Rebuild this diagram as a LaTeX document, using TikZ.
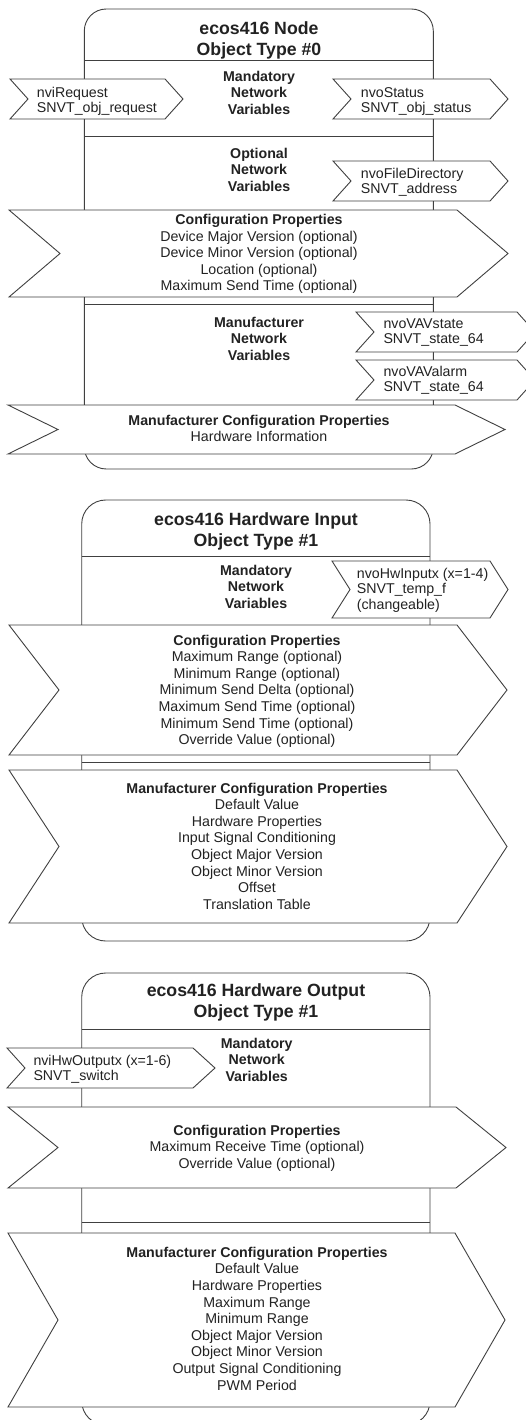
\documentclass[tikz,border=0pt]{standalone}
\usepackage{fontspec}
\setmainfont{Liberation Sans}
\usetikzlibrary{calc}
\definecolor{ln}{HTML}{404040}
\definecolor{tx}{HTML}{222222}
\newcommand\chevshape[7]{% name l t r b dl dr
  \pgfmathsetmacro\chevmid{(#3+#5)/2}
  \draw[shp] (#2,#3) -- (#4,#3) -- (#4+#7,\chevmid) -- (#4,#5) -- (#2,#5) -- (#2+#6,\chevmid) -- cycle;
  \coordinate (#1) at ({(#2+#4)/2},\chevmid);}
\begin{document}
\begin{tikzpicture}[x=1pt,y=-1pt,
  shp/.style={draw=ln, line width=0.9pt, fill=white, line join=miter},
  sect/.style={draw=ln, line width=0.9pt},
  ttl/.style={font=\fontsize{17.7}{21}\selectfont\bfseries, text=tx, align=center, anchor=base, inner sep=0},
  hd/.style={font=\fontsize{14.2}{16.5}\selectfont\bfseries, text=tx, align=center, anchor=base, inner sep=0},
  body/.style={font=\fontsize{14.2}{16.6}\selectfont, text=tx, align=center, anchor=base, inner sep=0},
  lbl/.style={font=\fontsize{14.2}{15.6}\selectfont, text=tx, align=left, anchor=base west, inner sep=0}]
\useasboundingbox[fill=white] (0,0) rectangle (526,1420);

% ---------------- Block 1 ----------------
\draw[shp, rounded corners=22] (84.3,9) rectangle (433.3,469);
\draw[sect] (84.3,60) -- (433.3,60);
\draw[sect] (84.3,136) -- (433.3,136);
\draw[sect] (84.3,304) -- (433.3,304);
\chevshape{a1}{10}{79}{165}{119}{18}{18}
\chevshape{a2}{333}{79}{490}{119}{18}{18}
\chevshape{a3}{333}{161}{490}{201}{18}{18}
\chevshape{c1}{9}{210}{457}{297}{51}{51}
\chevshape{a4}{356}{312}{517}{352}{18}{18}
\chevshape{a5}{356}{360}{517}{400}{18}{18}
\chevshape{mc1}{8}{405}{455}{454}{50}{50}

% (positions are baselines of the last line)
\node[ttl] (t1) at (259,56) {ecos416 Node\\Object Type \#0};
\node[hd] (m1) at (259,114.5) {Mandatory\\Network\\Variables};
\node[lbl] (l1) at (36.7,112.9) {nviRequest\\SNVT\_obj\_request};
\node[lbl] (l2) at (360.7,112.9) {nvoStatus\\SNVT\_obj\_status};
\node[hd] (o1) at (259,191.3) {Optional\\Network\\Variables};
\node[lbl] (l3) at (360.7,193.9) {nvoFileDirectory\\SNVT\_address};
\node[body] (tc1) at (259,290.9) {\textbf{Configuration Properties}\\Device Major Version (optional)\\Device Minor Version (optional)\\Location (optional)\\Maximum Send Time (optional)};
\node[hd] (mn1) at (259,360.3) {Manufacturer\\Network\\Variables};
\node[lbl] (l4) at (383.3,343.9) {nvoVAVstate\\SNVT\_state\_64};
\node[lbl] (l5) at (383.3,391.6) {nvoVAValarm\\SNVT\_state\_64};
\node[body] (tmc1) at (259,441.6) {\textbf{Manufacturer Configuration Properties}\\Hardware Information};

% ---------------- Block 2 ----------------
\draw[shp, rounded corners=24] (81.7,500) rectangle (430,941);
\draw[sect] (81.7,556) -- (430,556);
\draw[sect] (81.7,762) -- (430,762);
\chevshape{a6}{332}{561}{490}{618}{18}{18}
\chevshape{c2}{9}{625}{457}{755}{50}{50}
\chevshape{mc2}{9}{770}{457}{923}{50}{50}

\node[ttl] (t2) at (256,546) {ecos416 Hardware Input\\Object Type \#1};
\node[hd] (m2) at (256,608) {Mandatory\\Network\\Variables};
\node[lbl] (l6) at (356.7,609.5) {nvoHwInputx (x=1-4)\\SNVT\_temp\_f\\(changeable)};
\node[body] (tc2) at (257,744.6) {\textbf{Configuration Properties}\\Maximum Range (optional)\\Minimum Range (optional)\\Minimum Send Delta (optional)\\Maximum Send Time (optional)\\Minimum Send Time (optional)\\Override Value (optional)};
\node[body] (tmc2) at (257,909.2) {\textbf{Manufacturer Configuration Properties}\\Default Value\\Hardware Properties\\Input Signal Conditioning\\Object Major Version\\Object Minor Version\\Offset\\Translation Table};

% ---------------- Block 3 ----------------
\draw[shp, rounded corners=24] (81.7,973) rectangle (430,1425);
\draw[sect] (81.7,1029) -- (430,1029);
\draw[sect] (81.7,1222) -- (430,1222);
\chevshape{a7}{7}{1048}{193}{1088}{18}{22}
\chevshape{c3}{8}{1107}{456}{1188}{50}{50}
\chevshape{mc3}{8}{1233}{455}{1407}{50}{50}

\node[ttl] (t3) at (256,1017) {ecos416 Hardware Output\\Object Type \#1};
\node[hd] (m3) at (256.7,1081.3) {Mandatory\\Network\\Variables};
\node[lbl] (l7) at (33.3,1080.6) {nviHwOutputx (x=1-6)\\SNVT\_switch};
\node[body] (tc3) at (257,1168.2) {\textbf{Configuration Properties}\\Maximum Receive Time (optional)\\Override Value (optional)};
\node[body] (tmc3) at (257,1390.1) {\textbf{Manufacturer Configuration Properties}\\Default Value\\Hardware Properties\\Maximum Range\\Minimum Range\\Object Major Version\\Object Minor Version\\Output Signal Conditioning\\PWM Period};
\end{tikzpicture}
\end{document}
